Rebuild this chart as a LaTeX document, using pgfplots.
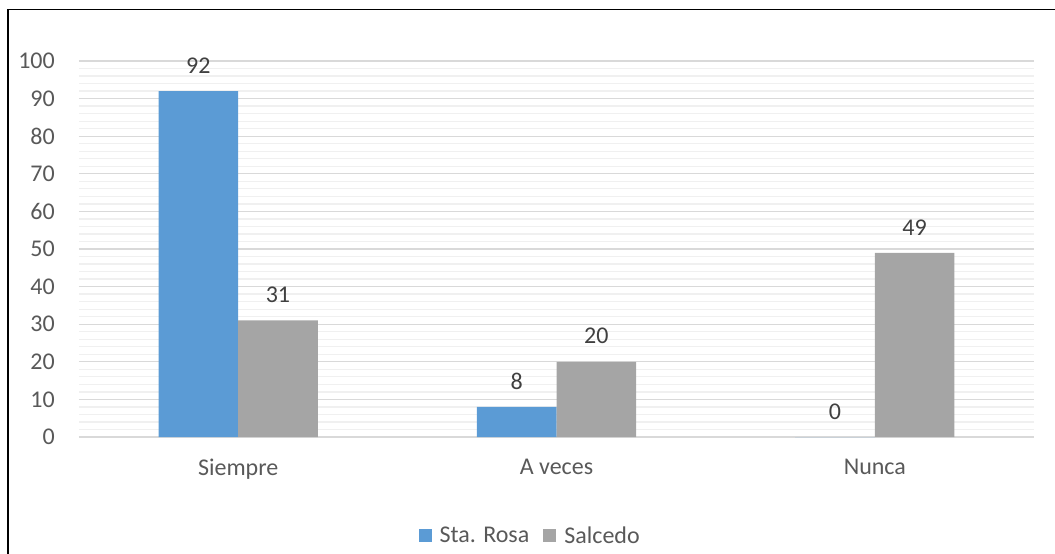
\documentclass[border=0pt]{standalone}
\usepackage{pgfplots}
\pgfplotsset{compat=1.18}
\usepackage{fontspec}
\setmainfont{Carlito}
\definecolor{cblue}{HTML}{5B9BD5}
\definecolor{cgray}{HTML}{A5A5A5}
\definecolor{ctext}{HTML}{595959}
\definecolor{clab}{HTML}{404040}
\definecolor{cmaj}{HTML}{D9D9D9}
\definecolor{cmin}{HTML}{F0F0F0}
\begin{document}
\begin{tikzpicture}[x=1pt,y=1pt]
\useasboundingbox (-79,-117) rectangle (976,437);
\begin{axis}[
  at={(0pt,0pt)}, anchor=south west,
  scale only axis,
  width=955pt, height=376pt,
  ybar=0pt, bar width=79.6pt,
  xmin=-0.5, xmax=2.5, ymin=0, ymax=100,
  xtick=data, xticklabels={Siempre,A veces,Nunca},
  ytick={0,10,...,100},
  minor y tick num=4,
  ymajorgrids, yminorgrids,
  major grid style={draw=cmaj, line width=1.3pt},
  minor grid style={draw=cmin, line width=1.3pt},
  axis line style={draw=none},
  major tick length=0pt, minor tick length=0pt,
  tick style={draw=none},
  font=\fontsize{24}{28}\selectfont,
  /pgf/number format/assume math mode=true,
  yticklabel style={anchor=east, inner sep=0pt, xshift=-24pt, text=ctext},
  xticklabel style={anchor=north, inner sep=0pt, yshift=-22pt, text=ctext},
  nodes near coords,
  nodes near coords style={anchor=south, inner sep=0pt, yshift=17.5pt, text=clab, font=\fontsize{24}{28}\selectfont},
  legend columns=2,
  legend style={at={(0.4725,-0.263)}, anchor=center, draw=none, fill=none,
    font=\fontsize{24}{28}\selectfont, text=ctext,
    /tikz/every odd column/.append style={column sep=6pt},
    /tikz/every even column/.append style={column sep=12pt}},
  legend image code/.code={\fill[#1] (0pt,-6.5pt) rectangle (13pt,6.5pt);},
  clip=false,
]
\addplot[fill=cblue, draw=none] coordinates {(0,92) (1,8) (2,0)};
\addlegendentry{Sta. Rosa}
\addplot[fill=cgray, draw=none] coordinates {(0,31) (1,20) (2,49)};
\addlegendentry{Salcedo}
\end{axis}
\draw[line width=1.6pt, black] (-71,-130) -- (-71,427.5) -- (990,427.5);
\end{tikzpicture}
\end{document}
